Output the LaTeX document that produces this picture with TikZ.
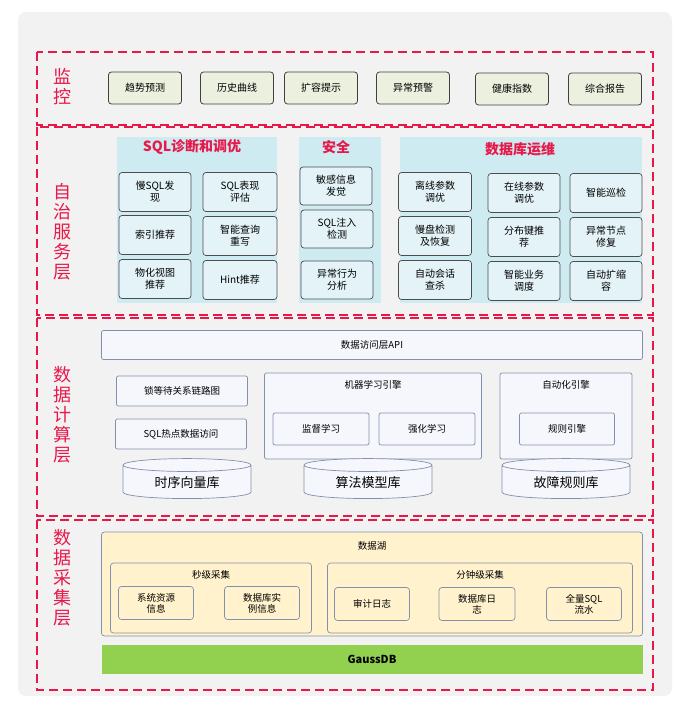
\documentclass[tikz,border=0pt]{standalone}
\usepackage{fontspec}
\setmainfont{Noto Sans CJK SC}
\usetikzlibrary{shapes.geometric}
\definecolor{laycol}{HTML}{E8184A}
\definecolor{mongreen}{HTML}{EBF1DE}
\definecolor{panelcyan}{HTML}{CDEBF1}
\definecolor{subcyan}{HTML}{E4F3F7}
\definecolor{compfill}{HTML}{F5F7FC}
\definecolor{compline}{HTML}{8190AC}
\definecolor{lakefill}{HTML}{FFF2CC}
\definecolor{gaussgreen}{HTML}{92D050}
\tikzset{
  layer/.style={draw=laycol, line width=2pt, dash pattern=on 9pt off 5pt},
  laylabel/.style={text=laycol, font=\fontsize{18}{20}\selectfont, align=center, inner sep=0pt},
  mon/.style={draw=black!75, fill=mongreen, rounded corners=3pt, line width=0.8pt, minimum width=73pt, minimum height=32pt, font=\fontsize{10}{12}\selectfont},
  panel/.style={fill=panelcyan, inner sep=0pt},
  ptitle/.style={text=laycol, font=\bfseries\fontsize{14}{16}\selectfont},
  sub/.style={draw=black!70, fill=subcyan, rounded corners=3pt, line width=0.7pt, minimum height=39pt, align=center, font=\fontsize{10}{12}\selectfont, inner sep=1pt},
  comp/.style={draw=compline, fill=compfill, rounded corners=2pt, line width=0.7pt, font=\fontsize{9.5}{11}\selectfont, align=center},
  store/.style={draw=compline, fill=compfill, cylinder, shape border rotate=90, aspect=0.18, minimum width=128pt, minimum height=40pt, font=\fontsize{13}{15}\selectfont, line width=0.7pt},
  lake/.style={draw=compline, fill=lakefill, rounded corners=3pt, line width=0.7pt, font=\fontsize{9.5}{11}\selectfont, align=center}
}
\begin{document}
\begin{tikzpicture}[x=1pt, y=-1pt]
\useasboundingbox (0,0) rectangle (698,709);
\fill[black!5, rounded corners=8pt] (18,12) rectangle (672,696);

% layers
\draw[layer] (37,52) rectangle (653,125);
\draw[layer] (37,127) rectangle (653,315);
\draw[layer] (37,318) rectangle (653,516);
\draw[layer] (37,520) rectangle (653,690);
\node[laylabel] (l1) at (62,87) {监\\控};
\node[laylabel] (l2) at (62,232) {自\\治\\服\\务\\层};
\node[laylabel] (l3) at (62,415) {数\\据\\计\\算\\层};
\node[laylabel] (l4) at (62,578) {数\\据\\采\\集\\层};

% monitoring
\node[mon] (m1) at (145,88) {趋势预测};
\node[mon] (m2) at (237,88) {历史曲线};
\node[mon] (m3) at (321,88) {扩容提示};
\node[mon] (m4) at (413,88) {异常预警};
\node[mon] (m5) at (512,89) {健康指数};
\node[mon] (m6) at (605,89) {综合报告};

% autonomy panels
\node[panel, minimum width=160pt, minimum height=166pt] (p1) at (197,220) {};
\node[panel, minimum width=82pt, minimum height=166pt] (p2) at (340,220) {};
\node[panel, minimum width=242pt, minimum height=166pt] (p3) at (521,220) {};
\node[ptitle] (t1) at (192,147) {SQL诊断和调优};
\node[ptitle] (t2) at (336,147) {安全};
\node[ptitle] (t3) at (520,149) {数据库运维};

\node[sub, minimum width=72pt] (s11) at (155,192) {慢SQL发\\现};
\node[sub, minimum width=74pt] (s12) at (240,192) {SQL表现\\评估};
\node[sub, minimum width=72pt] (s21) at (155,235) {索引推荐};
\node[sub, minimum width=74pt] (s22) at (240,236) {智能查询\\重写};
\node[sub, minimum width=72pt] (s31) at (155,279) {物化视图\\推荐};
\node[sub, minimum width=74pt] (s32) at (240,280) {Hint推荐};

\node[sub, minimum width=72pt, minimum height=38pt] (a1) at (336,186) {敏感信息\\发觉};
\node[sub, minimum width=72pt, minimum height=38pt] (a2) at (337,229) {SQL注入\\检测};
\node[sub, minimum width=72pt, minimum height=38pt] (a3) at (337,280) {异常行为\\分析};

\node[sub, minimum width=73pt] (o11) at (435,192) {离线参数\\调优};
\node[sub, minimum width=72pt] (o12) at (524,193) {在线参数\\调优};
\node[sub, minimum width=72pt] (o13) at (606,193) {智能巡检};
\node[sub, minimum width=73pt] (o21) at (435,236) {慢盘检测\\及恢复};
\node[sub, minimum width=72pt] (o22) at (524,237) {分布键推\\荐};
\node[sub, minimum width=72pt] (o23) at (606,237) {异常节点\\修复};
\node[sub, minimum width=73pt] (o31) at (435,280) {自动会话\\查杀};
\node[sub, minimum width=72pt] (o32) at (524,281) {智能业务\\调度};
\node[sub, minimum width=72pt] (o33) at (606,281) {自动扩缩\\容};

% compute
\node[comp, minimum width=541pt, minimum height=29pt] (api) at (372,345) {数据访问层API};
\node[comp, minimum width=131pt, minimum height=30pt] (lock) at (182,391) {锁等待关系链路图};
\node[comp, minimum width=131pt, minimum height=30pt] (hot) at (181,434) {SQL热点数据访问};
\node[comp, minimum width=217pt, minimum height=86pt] (ml) at (373,416) {};
\node[comp, draw=none, fill=none, anchor=north] (mlt) at ([yshift=-4pt]ml.north) {机器学习引擎};
\node[comp, minimum width=96pt, minimum height=32pt] (sup) at (321,429) {监督学习};
\node[comp, minimum width=96pt, minimum height=32pt] (rl) at (427,429) {强化学习};
\node[comp, minimum width=132pt, minimum height=86pt] (auto) at (566,416) {};
\node[comp, draw=none, fill=none, anchor=north] (autot) at ([yshift=-4pt]auto.north) {自动化引擎};
\node[comp, minimum width=95pt, minimum height=32pt] (rule) at (567,429) {规则引擎};
\node[store] (db1) at (187,483) {时序向量库};
\node[store] (db2) at (368,483) {算法模型库};
\node[store] (db3) at (566,483) {故障规则库};

% collection
\node[lake, minimum width=541pt, minimum height=104pt] (dl) at (372,584) {};
\node[anchor=north, font=\fontsize{9.5}{11}\selectfont] (dlt) at ([yshift=-6pt]dl.north) {数据湖};
\node[lake, minimum width=201pt, minimum height=70pt] (sec) at (211,598) {};
\node[anchor=north, font=\fontsize{9.5}{11}\selectfont] (sect) at ([yshift=-4pt]sec.north) {秒级采集};
\node[lake, minimum width=305pt, minimum height=70pt] (min) at (480,598) {};
\node[anchor=north, font=\fontsize{9.5}{11}\selectfont] (mint) at ([yshift=-4pt]min.north) {分钟级采集};
\node[lake, minimum width=75pt, minimum height=33pt] (c1) at (156,603) {系统资源\\信息};
\node[lake, minimum width=75pt, minimum height=33pt] (c2) at (262,603) {数据库实\\例信息};
\node[lake, minimum width=75pt, minimum height=33pt] (c3) at (372,604) {审计日志};
\node[lake, minimum width=76pt, minimum height=33pt] (c4) at (477,604) {数据库日\\志};
\node[lake, minimum width=75pt, minimum height=33pt] (c5) at (584,604) {全量SQL\\流水};
\node[fill=gaussgreen, minimum width=541pt, minimum height=29pt, font=\bfseries\fontsize{11}{13}\selectfont] (gauss) at (372,659) {GaussDB};
\end{tikzpicture}
\end{document}
